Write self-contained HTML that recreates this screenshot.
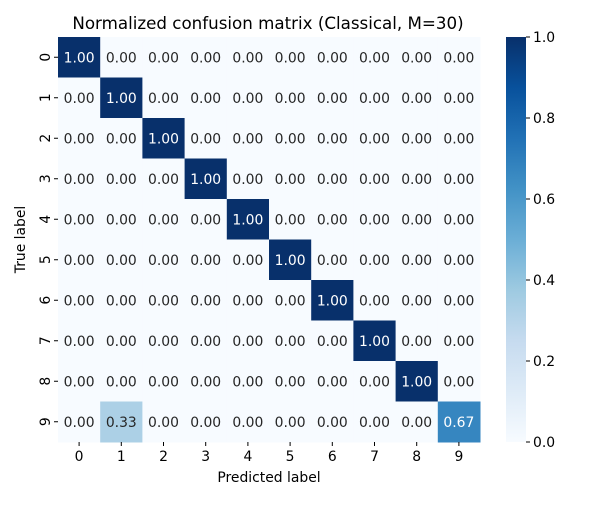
<!DOCTYPE html>
<html><head><meta charset="utf-8"><style>
body{margin:0;background:#fff;}
svg text{font-family:"DejaVu Sans","Liberation Sans",sans-serif;}
</style></head><body>
<svg id="chart" width="600" height="500" xmlns="http://www.w3.org/2000/svg">
<defs><linearGradient id="blues" x1="0" y1="1" x2="0" y2="0">
<stop offset="0" stop-color="#f7fbff"/><stop offset="0.125" stop-color="#deebf7"/><stop offset="0.25" stop-color="#c6dbef"/><stop offset="0.375" stop-color="#9ecae1"/><stop offset="0.5" stop-color="#6baed6"/><stop offset="0.625" stop-color="#4292c6"/><stop offset="0.75" stop-color="#2171b5"/><stop offset="0.875" stop-color="#08519c"/><stop offset="1" stop-color="#08306b"/>
</linearGradient></defs>
<text x="268" y="29" font-size="16.7" text-anchor="middle">Normalized confusion matrix (Classical, M=30)</text>
<g id="cells"></g>
<rect x="506" y="37" width="20" height="405" fill="url(#blues)"/>
<g id="cbticks"></g>
<text x="269" y="482" font-size="13.9" text-anchor="middle">Predicted label</text>
<text transform="translate(25,239.5) rotate(-90)" font-size="13.9" text-anchor="middle">True label</text>
</svg>
<script>
const labels=["0","1","2","3","4","5","6","7","8","9"];
const matrix=[
[1,0,0,0,0,0,0,0,0,0],
[0,1,0,0,0,0,0,0,0,0],
[0,0,1,0,0,0,0,0,0,0],
[0,0,0,1,0,0,0,0,0,0],
[0,0,0,0,1,0,0,0,0,0],
[0,0,0,0,0,1,0,0,0,0],
[0,0,0,0,0,0,1,0,0,0],
[0,0,0,0,0,0,0,1,0,0],
[0,0,0,0,0,0,0,0,1,0],
[0,0.33,0,0,0,0,0,0,0,0.67]];
const cbTicks=[0,0.2,0.4,0.6,0.8,1.0];
const NS="http://www.w3.org/2000/svg";
const X0=58,X1=480,Y0=37,Y1=442;
const n=labels.length,cw=(X1-X0)/n,ch=(Y1-Y0)/n;
const stops=[[247,251,255],[222,235,247],[198,219,239],[158,202,225],[107,174,214],[66,146,198],[33,113,181],[8,81,156],[8,48,107]];
function color(v){v=Math.max(0,Math.min(1,v));const p=v*8,i=Math.min(7,Math.floor(p)),f=p-i;const a=stops[i],b=stops[i+1];return `rgb(${a.map((c,k)=>Math.round(c+(b[k]-c)*f)).join(',')})`;}
const cells=document.getElementById('cells');
function mk(t,attrs,parent){const e=document.createElementNS(NS,t);for(const k in attrs)e.setAttribute(k,attrs[k]);parent.appendChild(e);return e;}
matrix.forEach((row,i)=>row.forEach((v,j)=>{
 const r=mk('rect',{x:X0+j*cw,y:Y0+i*ch,width:cw+0.5,height:ch+0.5,fill:color(v)},cells);
 
 
 const t=mk('text',{x:X0+(j+0.5)*cw,y:Y0+(i+0.5)*ch+5,'font-size':13.9,'text-anchor':'middle',fill:v>0.5?'#fff':'#262626'},cells);
 t.textContent=v.toFixed(2);
 
 
}));
labels.forEach((l,i)=>{
 const cx=X0+(i+0.5)*cw;
 mk('line',{x1:cx,x2:cx,y1:Y1,y2:Y1+4,stroke:'#000'},cells);
 const t=mk('text',{x:cx,y:Y1+19,'font-size':13.9,'text-anchor':'middle'},cells);t.textContent=l;
 
 
 const cy=Y0+(i+0.5)*ch;
 mk('line',{x1:X0-4,x2:X0,y1:cy,y2:cy,stroke:'#000'},cells);
 const u=mk('text',{transform:`translate(${X0-8},${cy}) rotate(-90)`,'font-size':13.9,'text-anchor':'middle'},cells);u.textContent=l;
 
 
});
const cb=document.getElementById('cbticks');
cbTicks.forEach(v=>{
 const y=Y1-v*(Y1-Y0);
 mk('line',{x1:526,x2:530,y1:y,y2:y,stroke:'#000'},cb);
 const t=mk('text',{x:533,y:y+5,'font-size':13.9},cb);t.textContent=v.toFixed(1);
 
 
});
</script>
</body></html>
